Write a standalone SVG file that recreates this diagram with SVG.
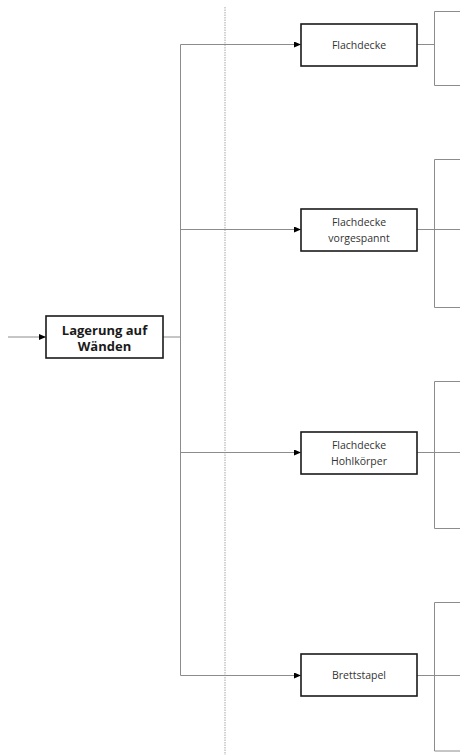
<svg xmlns="http://www.w3.org/2000/svg" width="460" height="755" viewBox="0 0 460 755">
  <style>
    .node rect { fill: #ffffff; stroke: #1a1a1a; stroke-width: 1.6; }
    .lbl { font-family: "Open Sans", "Noto Sans", "Liberation Sans", sans-serif; font-size: 10.5px; fill: #333333; text-anchor: middle; }
    .lbl-main { font-family: "Open Sans", "Noto Sans", "Liberation Sans", sans-serif; font-size: 13px; font-weight: bold; fill: #1a1a1a; text-anchor: middle; }
    .wire { fill: none; stroke: #8c8c8c; stroke-width: 1; }
    .flow { fill: none; stroke: #8c8c8c; stroke-width: 1; marker-end: url(#tip); }
    .sep { fill: none; stroke: #a6a6a6; stroke-width: 1; stroke-dasharray: 1.5 1; }
  </style>
  <defs>
    <marker id="tip" markerWidth="7" markerHeight="6" refX="7" refY="3" orient="auto" markerUnits="userSpaceOnUse">
      <path d="M0,0 L7,3 L0,6 Z" fill="#000000"/>
    </marker>
  </defs>
  <rect width="460" height="755" fill="#ffffff"/>

  <!-- dotted separator -->
  <line class="sep" x1="225" y1="7" x2="225" y2="755"/>

  <g id="connectors">
    <!-- input -->
    <line class="flow" x1="8" y1="337" x2="46" y2="337"/>
    <!-- trunk -->
    <line class="wire" x1="163" y1="337" x2="180.5" y2="337"/>
    <line class="wire" x1="180.5" y1="44.5" x2="180.5" y2="675.5"/>
    <!-- branches -->
    <line class="flow" x1="180.5" y1="44.5" x2="301" y2="44.5"/>
    <line class="flow" x1="180.5" y1="229.5" x2="301" y2="229.5"/>
    <line class="flow" x1="180.5" y1="452.5" x2="301" y2="452.5"/>
    <line class="flow" x1="180.5" y1="675.5" x2="301" y2="675.5"/>
    <!-- outputs to brackets -->
    <line class="wire" x1="417" y1="44.5" x2="434.5" y2="44.5"/>
    <line class="wire" x1="417" y1="229.5" x2="460" y2="229.5"/>
    <line class="wire" x1="417" y1="452.5" x2="460" y2="452.5"/>
    <line class="wire" x1="417" y1="675.5" x2="460" y2="675.5"/>
    <!-- brackets -->
    <path class="wire" d="M460,11.5 H434.5 V85.5 H460"/>
    <path class="wire" d="M460,159.5 H434.5 V307.5 H460"/>
    <path class="wire" d="M460,381.5 H434.5 V528.5 H460"/>
    <path class="wire" d="M460,602.5 H434.5 V751 H460"/>
  </g>

  <g id="lagerung" class="node">
    <rect x="46" y="316" width="117" height="42"/>
    <text class="lbl-main" x="104.5" y="334.5">Lagerung auf</text>
    <text class="lbl-main" x="104.5" y="351">Wänden</text>
  </g>

  <g id="flachdecke" class="node">
    <rect x="301" y="24" width="116" height="42"/>
    <text class="lbl" x="359" y="48.5">Flachdecke</text>
  </g>

  <g id="flachdecke-vorgespannt" class="node">
    <rect x="301" y="209" width="116" height="42"/>
    <text class="lbl" x="359" y="225.5">Flachdecke</text>
    <text class="lbl" x="359" y="242">vorgespannt</text>
  </g>

  <g id="flachdecke-hohlkoerper" class="node">
    <rect x="301" y="432" width="116" height="42"/>
    <text class="lbl" x="359" y="448.5">Flachdecke</text>
    <text class="lbl" x="359" y="465">Hohlkörper</text>
  </g>

  <g id="brettstapel" class="node">
    <rect x="301" y="654" width="116" height="42"/>
    <text class="lbl" x="359" y="679">Brettstapel</text>
  </g>
</svg>
